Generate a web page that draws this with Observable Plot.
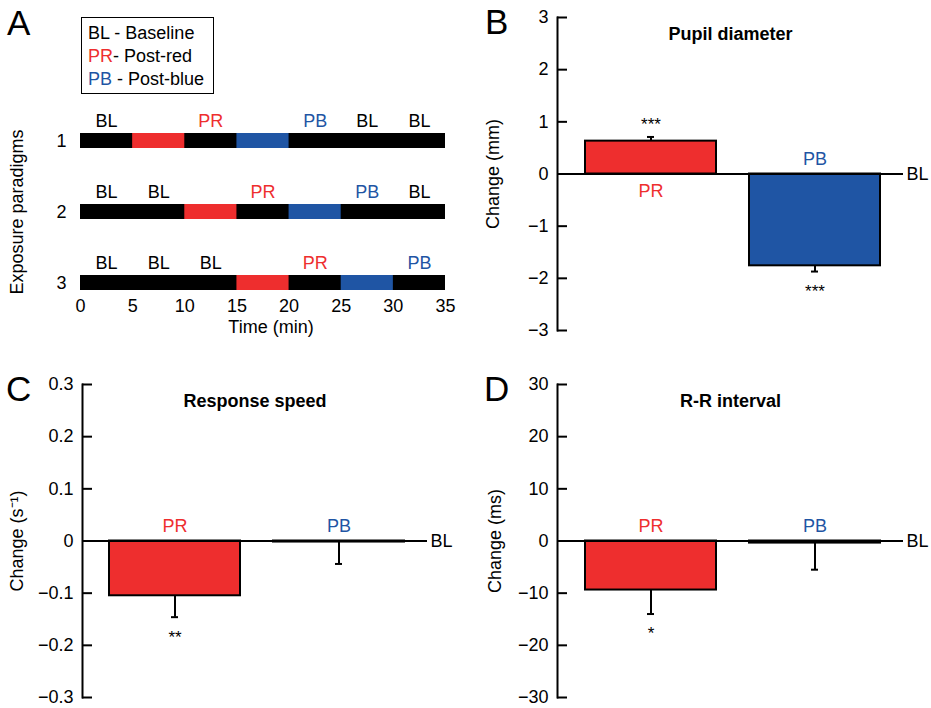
<!DOCTYPE html>
<html><head><meta charset="utf-8">
<script src="https://cdn.jsdelivr.net/npm/d3@7"></script>
<script src="https://cdn.jsdelivr.net/npm/@observablehq/plot@0.6"></script>
<style>
body{margin:0;background:#fff;}
#fig{position:relative;width:931px;height:708px;font-family:"Liberation Sans",Arial,sans-serif;overflow:hidden;}
.panel{position:absolute;}
.letter{position:absolute;font-family:"Liberation Sans",Arial,sans-serif;font-size:35px;line-height:1;color:#000;}
#legend{position:absolute;left:81px;top:17px;width:133px;height:77px;border:1.5px solid #000;font-size:18px;line-height:23px;padding:4px 0 0 6px;box-sizing:border-box;background:#fff;white-space:nowrap;}
</style></head><body>
<div id="fig">
  <div class="panel" id="pA" style="left:0;top:0"></div>
  <div class="panel" id="pB" style="left:460px;top:0"></div>
  <div class="panel" id="pC" style="left:0;top:360px"></div>
  <div class="panel" id="pD" style="left:470px;top:360px"></div>
  <div id="legend">
    <div>BL - Baseline</div>
    <div><span style="color:#ee2e2e">PR</span>- Post-red</div>
    <div><span style="color:#1f55a4">PB</span> - Post-blue</div>
  </div>
  <div class="letter" style="left:7px;top:5px">A</div>
  <div class="letter" style="left:485px;top:4px">B</div>
  <div class="letter" style="left:6px;top:371px">C</div>
  <div class="letter" style="left:484px;top:371px">D</div>
</div>
<script>
const RED = "#ee2e2e", BLUE = "#1f55a4";
const FONT = "Liberation Sans, Arial, sans-serif";
const labelColor = {BL: "#000", PR: RED, PB: BLUE};

// ---------- Panel A data ----------
const paradigms = ["1", "2", "3"];
const sessionStart = [0, 0, 0];
const sessionEnd = [35, 35, 35];
const redStart = [5, 10, 15];
const redEnd = [10, 15, 20];
const blueStart = [15, 20, 25];
const blueEnd = [20, 25, 30];
const row1Labels = ["BL", "PR", "PB", "BL", "BL"];
const row1Times = [2.5, 12.5, 22.5, 27.5, 32.5];
const row2Labels = ["BL", "BL", "PR", "PB", "BL"];
const row2Times = [2.5, 7.5, 17.5, 27.5, 32.5];
const row3Labels = ["BL", "BL", "BL", "PR", "PB"];
const row3Times = [2.5, 7.5, 12.5, 22.5, 32.5];
const timeTicks = [0, 5, 10, 15, 20, 25, 30, 35];

// ---------- Panels B-D data ----------
const conditions = ["PR", "PB"];
const pupilChange = [0.63, -1.76];
const pupilSEM = [0.08, 0.11];
const pupilStars = ["***", "***"];
const pupilTicks = [-3, -2, -1, 0, 1, 2, 3];

const speedChange = [-0.105, -0.002];
const speedSEM = [0.041, 0.042];
const speedStars = ["**", ""];
const speedTicks = [-0.3, -0.2, -0.1, 0, 0.1, 0.2, 0.3];

const rrChange = [-9.4, -0.4];
const rrSEM = [4.6, 5.1];
const rrStars = ["*", ""];
const rrTicks = [-30, -20, -10, 0, 10, 20, 30];

// ---------- Panel A ----------
const sessions = paradigms.map((p, i) => ({p, x1: sessionStart[i], x2: sessionEnd[i]}));
const reds = paradigms.map((p, i) => ({p, x1: redStart[i], x2: redEnd[i]}));
const blues = paradigms.map((p, i) => ({p, x1: blueStart[i], x2: blueEnd[i]}));
const periodLabels = [
  ...row1Labels.map((l, i) => ({p: "1", t: row1Times[i], l})),
  ...row2Labels.map((l, i) => ({p: "2", t: row2Times[i], l})),
  ...row3Labels.map((l, i) => ({p: "3", t: row3Times[i], l}))
];

const plotA = Plot.plot({
  width: 460, height: 350,
  marginLeft: 80, marginRight: 15, marginTop: 133, marginBottom: 60,
  style: {fontFamily: FONT, fontSize: "18px", background: "transparent", color: "#000", overflow: "visible"},
  x: {domain: [0, 35]},
  y: {domain: paradigms, paddingInner: 0.79, paddingOuter: 0},
  marks: [
    Plot.barX(sessions, {y: "p", x1: "x1", x2: "x2", fill: "#000"}),
    Plot.barX(reds, {y: "p", x1: "x1", x2: "x2", fill: RED}),
    Plot.barX(blues, {y: "p", x1: "x1", x2: "x2", fill: BLUE}),
    Plot.text(periodLabels, {y: "p", x: "t", text: "l", fill: d => labelColor[d.l], dy: -20, fontSize: 18}),
    Plot.axisX({ticks: timeTicks, tickSize: 0, tickPadding: 9, tickFormat: d => String(d), fontSize: 18, label: null}),
    Plot.axisY({tickSize: 0, tickPadding: 14, fontSize: 18, label: null}),
    Plot.text(["Time (min)"], {frameAnchor: "bottom", dy: 42, dx: 8, fontSize: 18}),
    Plot.text(["Exposure paradigms"], {frameAnchor: "left", textAnchor: "middle", rotate: -90, dx: -63, fontSize: 18})
  ]
});
document.getElementById("pA").appendChild(plotA);

// ---------- Bar panels ----------
function barPanel({values, sems, stars, ticks, fmt, title, ylabel, width, height, ml, mr, mt, mb, labelDx}) {
  const data = conditions.map((c, i) => ({
    c, v: values[i], end: values[i] + Math.sign(values[i]) * sems[i],
    star: stars[i], color: c === "PR" ? RED : BLUE
  }));
  const pos = data.filter(d => d.v > 0);
  const neg = data.filter(d => d.v <= 0);
  return Plot.plot({
    width, height, marginLeft: ml, marginRight: mr, marginTop: mt, marginBottom: mb,
    style: {fontFamily: FONT, fontSize: "18px", background: "transparent", color: "#000", overflow: "visible"},
    x: {domain: conditions, paddingInner: 0.2, paddingOuter: 0.15, align: 0.55, axis: null},
    y: {domain: [ticks[0], ticks[ticks.length - 1]]},
    color: {type: "identity"},
    marks: [
      Plot.ruleX(data, {x: "c", y1: "v", y2: "end", stroke: "#000", strokeWidth: 2}),
      Plot.tickY(data, {x: "c", y: "end", stroke: "#000", strokeWidth: 2, inset: 62}),
      Plot.barY(data, {x: "c", y: "v", fill: "color", stroke: "#000", strokeWidth: 2}),
      Plot.ruleY([0], {stroke: "#000", strokeWidth: 2}),
      Plot.axisY({ticks, tickFormat: fmt, tickSize: -10, tickPadding: 19, strokeWidth: 2, fontSize: 18, label: null}),
      Plot.frame({anchor: "left", strokeWidth: 2}),
      Plot.text([title], {frameAnchor: "top", dy: 10, fontWeight: "bold", fontSize: 18}),
      Plot.text([0], {y: d => d, text: () => "BL", frameAnchor: "right", textAnchor: "start", dx: 3, fontSize: 18}),
      Plot.text(pos, {x: "c", y: () => 0, text: "c", fill: "color", dy: 17, fontSize: 18}),
      Plot.text(neg, {x: "c", y: () => 0, text: "c", fill: "color", dy: -15, fontSize: 18}),
      Plot.text(pos.filter(d => d.star), {x: "c", y: "end", text: "star", dy: -12, fontSize: 17}),
      Plot.text(neg.filter(d => d.star), {x: "c", y: "end", text: "star", dy: 20, fontSize: 17}),
      Plot.text([ylabel], {frameAnchor: "left", textAnchor: "middle", rotate: -90, dx: labelDx, fontSize: 18})
    ]
  });
}

const fmtInt = d => d3.format("d")(d);
const fmtTenth = d => d === 0 ? "0" : d3.format(".1f")(d);

document.getElementById("pB").appendChild(barPanel({
  values: pupilChange, sems: pupilSEM, stars: pupilStars, ticks: pupilTicks, fmt: fmtInt,
  title: "Pupil diameter", ylabel: "Change (mm)",
  width: 471, height: 350, ml: 97, mr: 28, mt: 17, mb: 20, labelDx: -64
}));
document.getElementById("pC").appendChild(barPanel({
  values: speedChange, sems: speedSEM, stars: speedStars, ticks: speedTicks, fmt: fmtTenth,
  title: "Response speed", ylabel: "Change (s⁻¹)",
  width: 470, height: 348, ml: 82, mr: 43, mt: 24, mb: 11, labelDx: -65
}));
document.getElementById("pD").appendChild(barPanel({
  values: rrChange, sems: rrSEM, stars: rrStars, ticks: rrTicks, fmt: fmtInt,
  title: "R-R interval", ylabel: "Change (ms)",
  width: 461, height: 348, ml: 87, mr: 28, mt: 24, mb: 11, labelDx: -62
}));
</script>
</body></html>
